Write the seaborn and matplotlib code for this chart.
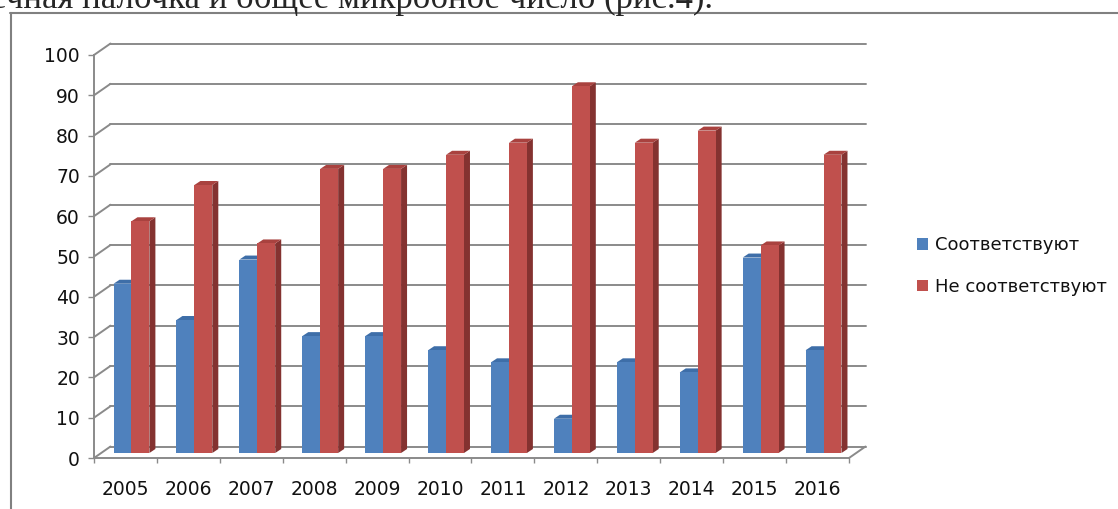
import numpy as np
import pandas as pd
import matplotlib
matplotlib.use('Agg')
import matplotlib.pyplot as plt
import matplotlib.transforms as mtrans
from matplotlib.patches import Polygon, Patch
from matplotlib.lines import Line2D
from matplotlib.colors import to_rgb
import seaborn as sns

# ── data ──────────────────────────────────────────────────────
years = [str(y) for y in range(2005, 2017)]
match = [42, 33, 48, 29, 29, 25.5, 22.5, 8.5, 22.5, 20, 48.5, 25.5]
no_match = [57.5, 66.5, 52, 70.5, 70.5, 74, 77, 91, 77, 80, 51.5, 74]
series = ['Соответствуют', 'Не соответствуют']
yticks = list(range(0, 101, 10))

W, H, DPI = 1118, 509, 100
sns.set_theme(style='white')
plt.rcParams['font.family'] = ['DejaVu Sans']

front = {series[0]: '#4F81BD', series[1]: '#C0504D'}
side = {series[0]: '#385D8A', series[1]: '#843230'}
top = {series[0]: '#3E6EA8', series[1]: '#A9423F'}
grid_c = '#8a8a8a'

fig = plt.figure(figsize=(W / DPI, H / DPI), dpi=DPI)
# front plane of the pseudo-3D box in pixels
x0, x1, y0, y1 = 94, 849, 458, 55
ax = fig.add_axes([x0 / W, 1 - y0 / H, (x1 - x0) / W, (y0 - y1) / H])
ax.set_facecolor('none')

df = pd.DataFrame({
    'year': years * 2,
    'value': match + no_match,
    'series': [series[0]] * len(years) + [series[1]] * len(years),
})

sns.barplot(data=df, x='year', y='value', hue='series', order=years,
            hue_order=series, palette=front, width=0.57, saturation=1,
            linewidth=0, legend=False, ax=ax)
ax.set_xlim(-0.5, len(years) - 0.5)
ax.set_ylim(0, 100)


def shift(dx, dy):
    return ax.transData + mtrans.ScaledTranslation(dx / DPI, dy / DPI, fig.dpi_scale_trans)


wall = (16.5, 11.5)   # back wall offset, px
plane = (6, 5)        # bar front plane offset, px
depth = (6, 4)        # bar depth, px
ident = mtrans.IdentityTransform()

# back wall gridlines + side wall diagonals
for v in yticks:
    ax.plot([-0.5, len(years) - 0.5], [v, v], transform=shift(*wall),
            color=grid_c, lw=1.4, zorder=1, clip_on=False)
    p = ax.transData.transform((-0.5, v))
    ax.add_line(Line2D([p[0], p[0] + wall[0]], [p[1], p[1] + wall[1]],
                       transform=ident, color=grid_c, lw=1.4, zorder=1, clip_on=False))
p = ax.transData.transform((len(years) - 0.5, 0))
ax.add_line(Line2D([p[0], p[0] + wall[0]], [p[1], p[1] + wall[1]],
                   transform=ident, color=grid_c, lw=1.4, zorder=1, clip_on=False))

# 3D faces for the bars
T = shift(*plane)
for bar in list(ax.patches):
    fc = bar.get_facecolor()[:3]
    s = series[0] if np.allclose(fc, to_rgb(front[series[0]]), atol=0.02) else series[1]
    bx, bw, bh = bar.get_x(), bar.get_width(), bar.get_height()
    bar.set_transform(T)
    bar.set_zorder(4)
    bar.set_clip_on(False)
    br = T.transform((bx + bw, 0))
    tr = T.transform((bx + bw, bh))
    tl = T.transform((bx, bh))
    d = np.array(depth)
    ax.add_patch(Polygon([br, tr, tr + d, br + d], closed=True, transform=ident,
                         facecolor=side[s], edgecolor='none', zorder=3, clip_on=False))
    ax.add_patch(Polygon([tl, tr, tr + d, tl + d], closed=True, transform=ident,
                         facecolor=top[s], edgecolor='none', zorder=3, clip_on=False))

# axes styling
for sp in ['top', 'right']:
    ax.spines[sp].set_visible(False)
for sp in ['left', 'bottom']:
    ax.spines[sp].set_color(grid_c)
    ax.spines[sp].set_linewidth(1.4)
ax.set_yticks(yticks)
ax.set_xticks(range(len(years)))
ax.set_xticklabels(years)
ax.set_xticks(np.arange(-0.5, len(years), 1), minor=True)
ax.tick_params(axis='y', left=True, length=4.3, width=1, color=grid_c, pad=5.8,
               labelsize=13.5, labelcolor='#111111')
ax.tick_params(axis='x', which='major', bottom=False, length=0, pad=16,
               labelsize=13.5, labelcolor='#111111')
ax.tick_params(axis='x', which='minor', bottom=True, length=3.6, width=1, color=grid_c)
ax.set_xlabel('')
ax.set_ylabel('')

# legend
handles = [Patch(facecolor=front[s], edgecolor='none', label=s) for s in series]
fig.legend(handles=handles, loc='center left', bbox_to_anchor=(901 / W, 1 - 266 / H),
           frameon=False, fontsize=13, handlelength=0.6, handleheight=0.6,
           handletextpad=0.4, labelspacing=1.3, labelcolor='#111111')

# outer frame of the embedded chart + clipped line of document text
fig.add_artist(Line2D([10.5 / W, 10.5 / W], [0, 1 - 13 / H], transform=fig.transFigure,
                      color='#808080', lw=1.5))
fig.add_artist(Line2D([10 / W, 1], [1 - 13 / H, 1 - 13 / H], transform=fig.transFigure,
                      color='#808080', lw=1.5))
fig.text(713 / W, 1 - 8 / H, 'кишечная палочка и общее микробное число (рис.4).',
         ha='right', va='baseline', fontsize=25, family=['Liberation Serif', 'DejaVu Serif'])

fig.savefig('out.png', dpi=DPI)
